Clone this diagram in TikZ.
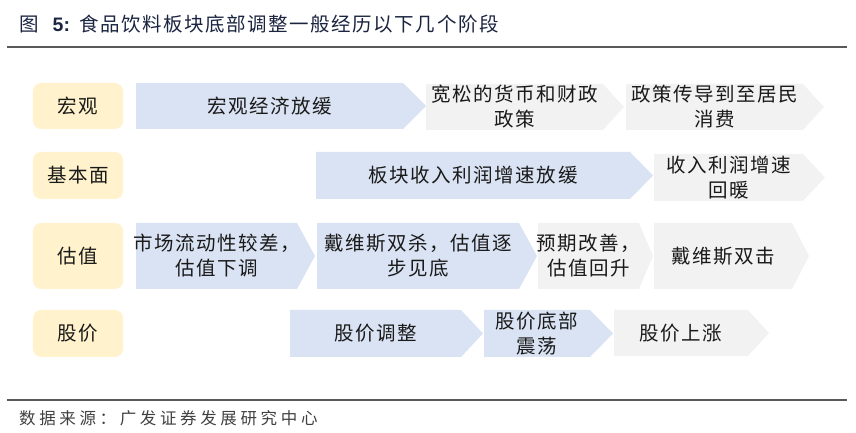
\documentclass[tikz,border=0pt]{standalone}
\usepackage{fontspec}
\usepackage{xcolor}
\usepackage{tikz}
\usetikzlibrary{positioning}

\setsansfont{Liberation Sans}
\newfontfamily\cjk[LetterSpace=8]{Noto Sans CJK SC}
\newfontfamily\srccjk[LetterSpace=22]{Noto Sans CJK SC}

\definecolor{stageblue}{HTML}{DAE3F3}
\definecolor{stagegray}{HTML}{F2F2F2}
\definecolor{rowcream}{HTML}{FFF2CC}
\definecolor{titlenavy}{HTML}{1B2440}
\definecolor{rulegray}{HTML}{595959}
\definecolor{inkgray}{HTML}{1A1A1A}

% chevron: name, colour, left x, tip x, top y, bottom y, tip depth, text
\newcommand{\chevron}[8]{%
  \fill[#2] (#3,#5) -- ({#4-#7},#5) -- (#4,{(#5+#6)/2}) -- ({#4-#7},#6) -- (#3,#6) -- cycle;
  \node[stagetext] (#1) at ({(#3+#4-#7)/2},{(#5+#6)/2}) {#8};}

\begin{document}
\begin{tikzpicture}[
    x=1bp,
    y=-1bp,
    stagetext/.style={
        inner sep=0pt,
        align=center,
        text=inkgray,
        font=\cjk\fontsize{19.5bp}{25bp}\selectfont
    },
    rowlabel/.style={
        rectangle,
        fill=rowcream,
        rounded corners=8bp,
        minimum width=90bp,
        inner sep=0pt,
        text=inkgray,
        font=\cjk\fontsize{19.5bp}{25bp}\selectfont
    },
    rule/.style={draw=rulegray, line width=1.6bp}
]

\useasboundingbox (0,0) rectangle (856,433);

\node[anchor=west, inner sep=0pt, text=titlenavy] (title) at (19,24)
    {\cjk\fontsize{19.5bp}{24bp}\selectfont 图\hspace{14bp}{\sffamily\bfseries 5:}\hspace{9bp}食品饮料板块底部调整一般经历以下几个阶段};
\draw[rule] (7,47) -- (847,47);

\foreach \nm/\txt/\ym/\hgt in {macro/宏观/106/46, fund/基本面/175.5/47, valu/估值/256/66, price/股价/333.5/47}
    \node[rowlabel, minimum height=\hgt bp] (lbl-\nm) at (78,\ym) {\txt};

% macro row
\chevron{mac1}{stageblue}{136}{426}{83}{129}{23}{宏观经济放缓}
\chevron{mac2}{stagegray}{426}{624}{84}{130}{21}{宽松的货币和财政\\政策}
\chevron{mac3}{stagegray}{626}{824}{84}{130}{21}{政策传导到至居民\\消费}

% fundamentals row
\chevron{fun1}{stageblue}{316}{653}{152}{199}{23}{板块收入利润增速放缓}
\chevron{fun2}{stagegray}{654}{825}{154}{201}{22}{收入利润增速\\回暖}

% valuation row
\chevron{val1}{stageblue}{136}{315}{223}{289}{18}{市场流动性较差，\\估值下调}
\chevron{val2}{stageblue}{317}{537}{223}{289}{18}{戴维斯双杀，估值逐\\步见底}
\chevron{val3}{stagegray}{538}{653}{223}{289}{14}{预期改善，\\估值回升}
\chevron{val4}{stagegray}{654}{809}{223}{289}{17}{戴维斯双击}

% price row
\chevron{prc1}{stageblue}{290}{483}{310}{357}{22}{股价调整}
\chevron{prc2}{stageblue}{484}{613}{310}{357}{23}{股价底部\\震荡}
\chevron{prc3}{stagegray}{614}{769}{310}{356}{21}{股价上涨}

\draw[rule] (7,400) -- (847,400);
\node[anchor=west, inner sep=0pt, text=black!75, font=\srccjk\fontsize{16.5bp}{20bp}\selectfont] (source) at (19,418)
    {数据来源：广发证券发展研究中心};

\end{tikzpicture}
\end{document}
